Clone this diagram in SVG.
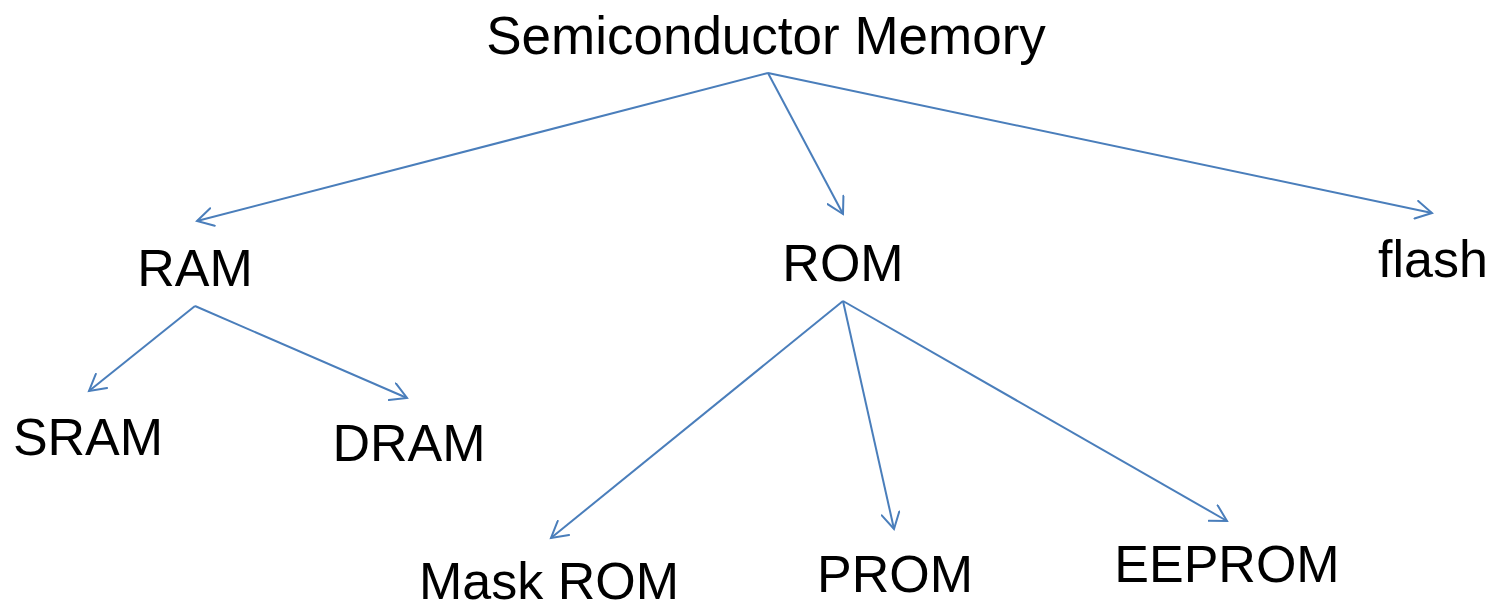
<svg xmlns="http://www.w3.org/2000/svg" width="1494" height="603" viewBox="0 0 1494 603">
<defs>
<style>
.lbl{font-family:"Liberation Sans",Arial,sans-serif;font-size:52px;fill:#000;text-anchor:middle}
.edge{stroke:#4a7ebb;stroke-width:2;fill:none}
</style>
<marker id="arr" viewBox="0 0 20 20" refX="17" refY="10" markerWidth="20" markerHeight="20" markerUnits="userSpaceOnUse" orient="auto">
<path d="M1,1 L17,10 L1,19" fill="none" stroke="#4a7ebb" stroke-width="2" stroke-linecap="round" stroke-linejoin="miter"/>
</marker>
</defs>
<rect width="1494" height="603" fill="#fff"/>
<g id="connectors" class="edges">
<line class="edge" x1="768" y1="73" x2="197" y2="221" marker-end="url(#arr)"/>
<line class="edge" x1="768" y1="73" x2="843" y2="214" marker-end="url(#arr)"/>
<line class="edge" x1="768" y1="73" x2="1432" y2="213" marker-end="url(#arr)"/>
<line class="edge" x1="195" y1="306" x2="89" y2="391" marker-end="url(#arr)"/>
<line class="edge" x1="195" y1="306" x2="407" y2="398" marker-end="url(#arr)"/>
<line class="edge" x1="843" y1="301" x2="551" y2="538" marker-end="url(#arr)"/>
<line class="edge" x1="843" y1="301" x2="894" y2="529" marker-end="url(#arr)"/>
<line class="edge" x1="843" y1="301" x2="1227" y2="521" marker-end="url(#arr)"/>
</g>
<g id="node-semiconductor-memory"><text class="lbl" x="766" y="54" style="font-size:53px">Semiconductor Memory</text></g>
<g id="node-ram"><text class="lbl" x="195" y="286">RAM</text></g>
<g id="node-rom"><text class="lbl" x="843" y="281">ROM</text></g>
<g id="node-flash"><text class="lbl" x="1433" y="277">flash</text></g>
<g id="node-sram"><text class="lbl" x="88" y="455">SRAM</text></g>
<g id="node-dram"><text class="lbl" x="409" y="461">DRAM</text></g>
<g id="node-mask-rom"><text class="lbl" x="549" y="599">Mask ROM</text></g>
<g id="node-prom"><text class="lbl" x="895" y="592">PROM</text></g>
<g id="node-eeprom"><text class="lbl" x="1227" y="582">EEPROM</text></g>
</svg>
